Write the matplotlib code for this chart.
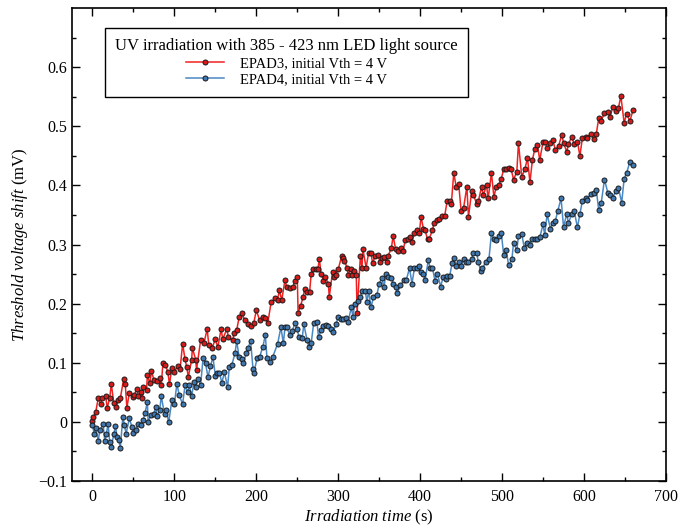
import matplotlib
matplotlib.use("Agg")
import matplotlib.pyplot as plt

# EPAD3 (red) - irradiation time (s), threshold voltage shift (mV)
epad3_t = [
    0, 1, 4, 7, 10, 12, 16, 18, 21, 23, 26, 29, 31, 34, 38, 40, 42, 45, 49, 51,
    54, 56, 59, 61, 62, 66, 67, 70, 72, 75, 79, 82, 84, 86, 89, 92, 94, 97, 100, 104,
    107, 110, 113, 115, 117, 121, 122, 126, 127, 132, 136, 140, 142, 146, 150, 153, 157, 159, 164, 166,
    171, 173, 176, 179, 182, 186, 190, 194, 197, 200, 204, 208, 211, 214, 218, 223, 226, 228, 231, 235,
    237, 241, 245, 247, 250, 251, 254, 257, 259, 262, 265, 267, 269, 273, 275, 277, 279, 282, 284, 288,
    289, 293, 295, 297, 300, 304, 306, 307, 311, 312, 315, 317, 319, 322, 323, 327, 329, 330, 334, 337,
    340, 342, 345, 348, 351, 354, 356, 359, 361, 365, 367, 370, 373, 377, 379, 382, 385, 388, 390, 393,
    396, 399, 401, 404, 406, 409, 411, 415, 417, 421, 423, 427, 430, 433, 436, 438, 441, 444, 447, 450,
    453, 457, 459, 463, 465, 469, 471, 475, 477, 481, 483, 487, 490, 493, 496, 499, 502, 505, 508, 511,
    514, 518, 520, 524, 528, 531, 534, 537, 540, 543, 546, 550, 552, 555, 558, 562, 565, 569, 573, 575,
    579, 581, 585, 588, 592, 595, 598, 602, 604, 608, 612, 615, 618, 621, 625, 629, 632, 635, 639, 642,
    645, 649, 652, 656, 660,
]
epad3_shift = [
    0.002, 0.008, 0.017, 0.040, 0.030, 0.040, 0.044, 0.024, 0.040, 0.064, 0.032, 0.025, 0.037, 0.040, 0.072, 0.064, 0.024, 0.049, 0.042, 0.045,
    0.056, 0.044, 0.050, 0.040, 0.059, 0.054, 0.079, 0.065, 0.086, 0.071, 0.069, 0.075, 0.062, 0.100, 0.097, 0.084, 0.064, 0.091, 0.085, 0.094,
    0.090, 0.132, 0.106, 0.093, 0.076, 0.105, 0.125, 0.105, 0.088, 0.138, 0.133, 0.157, 0.130, 0.125, 0.140, 0.126, 0.157, 0.140, 0.157, 0.143,
    0.138, 0.150, 0.155, 0.177, 0.185, 0.172, 0.165, 0.163, 0.168, 0.189, 0.172, 0.177, 0.175, 0.167, 0.202, 0.209, 0.206, 0.223, 0.206, 0.240,
    0.228, 0.226, 0.229, 0.239, 0.245, 0.185, 0.196, 0.211, 0.224, 0.219, 0.219, 0.251, 0.258, 0.258, 0.258, 0.275, 0.251, 0.239, 0.245, 0.234,
    0.211, 0.253, 0.245, 0.249, 0.258, 0.280, 0.278, 0.273, 0.261, 0.249, 0.258, 0.249, 0.256, 0.249, 0.185, 0.280, 0.261, 0.293, 0.261, 0.285,
    0.285, 0.268, 0.281, 0.283, 0.271, 0.277, 0.279, 0.270, 0.281, 0.295, 0.315, 0.292, 0.289, 0.295, 0.289, 0.308, 0.310, 0.312, 0.305, 0.319,
    0.324, 0.319, 0.347, 0.327, 0.324, 0.309, 0.310, 0.324, 0.337, 0.342, 0.344, 0.349, 0.349, 0.374, 0.374, 0.368, 0.421, 0.398, 0.403, 0.357,
    0.362, 0.398, 0.347, 0.391, 0.384, 0.369, 0.373, 0.398, 0.383, 0.400, 0.378, 0.421, 0.381, 0.398, 0.401, 0.411, 0.428, 0.427, 0.430, 0.428,
    0.410, 0.423, 0.472, 0.415, 0.428, 0.447, 0.405, 0.443, 0.462, 0.469, 0.443, 0.474, 0.474, 0.464, 0.472, 0.477, 0.460, 0.467, 0.486, 0.472,
    0.457, 0.470, 0.482, 0.470, 0.474, 0.450, 0.480, 0.482, 0.481, 0.487, 0.479, 0.487, 0.514, 0.509, 0.523, 0.524, 0.516, 0.533, 0.526, 0.531,
    0.551, 0.506, 0.521, 0.509, 0.528,
]

# EPAD4 (blue)
epad4_t = [
    0, 2, 4, 7, 9, 13, 15, 17, 19, 21, 23, 26, 28, 30, 32, 34, 37, 39, 41, 45,
    48, 50, 53, 56, 59, 62, 64, 67, 68, 71, 75, 77, 79, 82, 84, 88, 90, 93, 97, 100,
    103, 106, 110, 113, 116, 118, 121, 124, 126, 129, 132, 135, 138, 141, 144, 147, 150, 152, 155, 158,
    161, 165, 167, 170, 174, 176, 179, 182, 184, 188, 190, 193, 196, 197, 201, 204, 208, 211, 213, 217,
    220, 226, 230, 233, 235, 237, 241, 244, 247, 250, 252, 256, 258, 262, 264, 267, 270, 274, 276, 279,
    281, 285, 288, 291, 294, 297, 300, 303, 306, 310, 312, 316, 318, 320, 324, 327, 329, 333, 335, 337,
    340, 343, 347, 350, 353, 356, 358, 361, 365, 367, 370, 372, 376, 380, 383, 387, 390, 393, 396, 399,
    401, 404, 406, 410, 412, 415, 418, 421, 425, 428, 431, 433, 436, 439, 441, 444, 447, 450, 453, 456,
    459, 463, 465, 469, 471, 474, 476, 480, 484, 487, 490, 493, 496, 499, 502, 505, 508, 512, 514, 518,
    520, 524, 527, 531, 534, 537, 540, 543, 546, 550, 552, 555, 559, 562, 565, 568, 572, 575, 579, 581,
    585, 588, 592, 595, 598, 602, 604, 608, 612, 615, 618, 621, 625, 629, 632, 635, 639, 642, 646, 649,
    652, 656, 660,
]
epad4_shift = [
    -0.005, -0.020, -0.010, -0.032, -0.014, -0.004, -0.032, -0.020, -0.003, -0.034, -0.042, -0.021, -0.007, -0.025, -0.030, -0.044, 0.008, -0.005, -0.020, 0.006,
    -0.008, -0.019, -0.014, -0.003, -0.006, 0.003, 0.015, 0.033, -0.001, 0.011, 0.014, 0.025, 0.010, 0.020, 0.043, 0.013, 0.020, -0.001, 0.037, 0.030,
    0.064, 0.045, 0.030, 0.062, 0.050, 0.062, 0.044, 0.067, 0.059, 0.072, 0.062, 0.108, 0.099, 0.076, 0.094, 0.110, 0.078, 0.083, 0.083, 0.066,
    0.084, 0.059, 0.093, 0.096, 0.116, 0.137, 0.110, 0.106, 0.100, 0.117, 0.125, 0.137, 0.089, 0.083, 0.108, 0.110, 0.127, 0.147, 0.108, 0.101,
    0.110, 0.132, 0.160, 0.133, 0.160, 0.160, 0.147, 0.154, 0.167, 0.157, 0.143, 0.142, 0.165, 0.138, 0.127, 0.133, 0.167, 0.169, 0.143, 0.155,
    0.162, 0.164, 0.162, 0.157, 0.152, 0.165, 0.177, 0.174, 0.174, 0.175, 0.169, 0.194, 0.177, 0.200, 0.204, 0.211, 0.222, 0.222, 0.202, 0.222,
    0.194, 0.211, 0.214, 0.233, 0.244, 0.228, 0.251, 0.245, 0.243, 0.234, 0.228, 0.218, 0.231, 0.240, 0.240, 0.260, 0.234, 0.260, 0.260, 0.263,
    0.253, 0.251, 0.240, 0.274, 0.261, 0.261, 0.239, 0.251, 0.229, 0.245, 0.242, 0.247, 0.247, 0.268, 0.278, 0.264, 0.271, 0.264, 0.276, 0.270,
    0.271, 0.276, 0.285, 0.286, 0.270, 0.256, 0.260, 0.270, 0.276, 0.319, 0.309, 0.307, 0.315, 0.320, 0.282, 0.290, 0.265, 0.275, 0.303, 0.290,
    0.315, 0.318, 0.295, 0.303, 0.300, 0.310, 0.310, 0.310, 0.312, 0.334, 0.317, 0.351, 0.327, 0.337, 0.340, 0.357, 0.378, 0.330, 0.352, 0.336,
    0.352, 0.357, 0.329, 0.351, 0.374, 0.379, 0.376, 0.386, 0.388, 0.393, 0.358, 0.370, 0.410, 0.388, 0.383, 0.379, 0.391, 0.396, 0.371, 0.411,
    0.421, 0.440, 0.435,
]

LEGEND_TITLE = "UV irradiation with 385 - 423 nm LED light source"
LABELS = ["EPAD3, initial Vth = 4 V", "EPAD4, initial Vth = 4 V"]

plt.rcParams["font.family"] = ["Liberation Serif", "DejaVu Serif"]
plt.rcParams["mathtext.fontset"] = "custom"
plt.rcParams["mathtext.rm"] = "Liberation Serif"
plt.rcParams["mathtext.it"] = "Liberation Serif:italic"

fig = plt.figure(figsize=(6.89, 5.29), dpi=100)
ax = fig.add_axes([0.1045, 0.0907, 0.862, 0.894])

ax.plot(epad3_t, epad3_shift, "-o", color="#f02020", lw=1.1, ms=3.6,
        mfc="#d41c1c", mec="#1a1a1a", mew=0.7, label=LABELS[0])
ax.plot(epad4_t, epad4_shift, "-o", color="#4a88c4", lw=1.1, ms=3.6,
        mfc="#3f78b0", mec="#1a1a1a", mew=0.7, label=LABELS[1])

ax.set_xlim(-25, 700)
ax.set_ylim(-0.1, 0.7)
ax.set_xticks([0, 100, 200, 300, 400, 500, 600, 700])
ax.set_xticks(range(0, 701, 50), minor=True)
ax.set_yticks([-0.1, 0, 0.1, 0.2, 0.3, 0.4, 0.5, 0.6])
ax.set_yticklabels(["\u22120.1", "0", "0.1", "0.2", "0.3", "0.4", "0.5", "0.6"])
ax.set_yticks([-0.05 + 0.1 * k for k in range(8)], minor=True)
ax.tick_params(which="both", direction="in", top=True, right=True,
               labelsize=11.5, width=1.0)
ax.tick_params(which="major", length=6)
ax.tick_params(which="minor", length=3)
ax.tick_params(axis="x", pad=6)
for s in ax.spines.values():
    s.set_linewidth(1.2)

ax.set_xlabel(r"$\mathit{Irradiation\ time}$ (s)", fontsize=12, labelpad=2)
ax.set_ylabel(r"$\mathit{Threshold\ voltage\ shift}$ (mV)", fontsize=12, labelpad=6)

leg = ax.legend(loc="upper left", bbox_to_anchor=(0.0556, 0.958), borderaxespad=0,
                title=LEGEND_TITLE, title_fontsize=12, fontsize=10.5,
                fancybox=False, edgecolor="black", framealpha=1,
                handlelength=2.6, numpoints=1, borderpad=0.7, labelspacing=0.2,
                handletextpad=1.1)
leg.get_frame().set_linewidth(1.0)

fig.savefig("out.png", dpi=100)
